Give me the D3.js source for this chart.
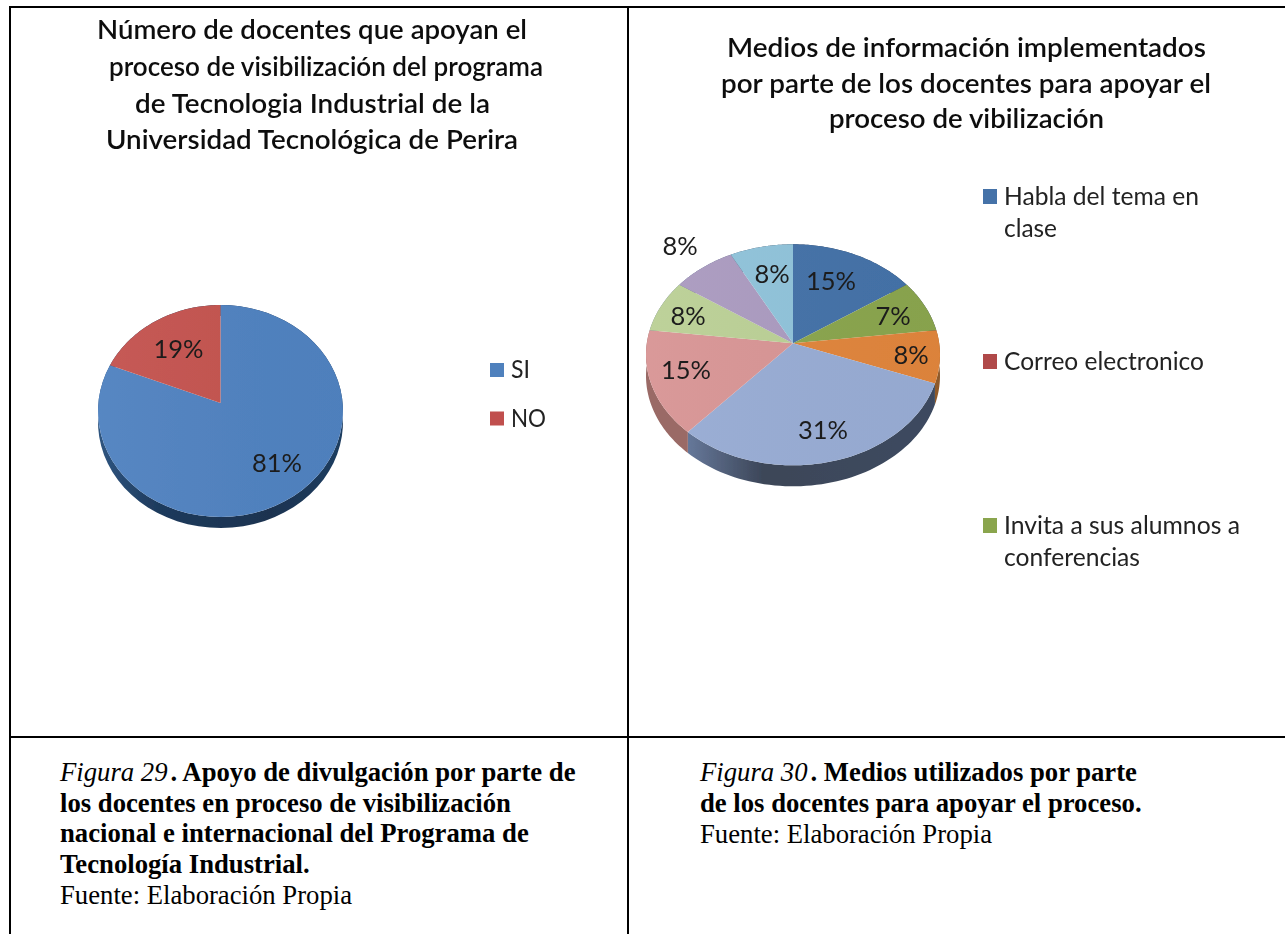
<!DOCTYPE html>
<html><head><meta charset="utf-8">
<script src="https://cdnjs.cloudflare.com/ajax/libs/d3/7.8.5/d3.min.js"></script>
<style>html,body{margin:0;padding:0;background:#fff;overflow:hidden}svg{display:block}</style>
</head><body><svg id="c" width="1285" height="934"></svg>
<script>
// ---- data ----
const leftCategories = ["SI", "NO"];
const leftValues = [81, 19];
const leftLabels = ["81%", "19%"];
const leftColors = ["#5082c0", "#c4544f"];
const leftLegendColors = ["#4f81bd", "#c0504d"];

// 13 responses in total; the source chart prints 1/13 as both 7% and 8%
const rightValues = [2, 1, 1, 4, 2, 1, 1, 1];
const rightLabels = ["15%", "7%", "8%", "31%", "15%", "8%", "8%", "8%"];
const rightColors = ["#4472a8", "#8aa54e", "#e0853c", "#98acd4", "#d89595", "#bbd096", "#ab9bc0", "#90c3da"];
const rightLegend = [["Habla del tema en", "clase"], ["Correo electronico"], ["Invita a sus alumnos a", "conferencias"]];
const rightLegendColors = ["#4472a8", "#b04a48", "#8aa54e"];

const leftTitle = ["Número de docentes que apoyan el", "proceso de visibilización del programa", "de Tecnologia Industrial de la", "Universidad Tecnológica de Perira"];
const rightTitle = ["Medios de información implementados", "por parte de los docentes para apoyar el", "proceso de vibilización"];

// ---- layout ----
const svg = d3.select("#c");
const defs = svg.append("defs");
defs.append("filter").attr("id", "soft").attr("x", "-5%").attr("y", "-5%").attr("width", "110%").attr("height", "110%")
  .append("feGaussianBlur").attr("stdDeviation", 0.55);
const chartLayer = svg.append("g").attr("filter", "url(#soft)");
const sans = "Lato,'Open Sans','Noto Sans',sans-serif";

function pie3d(o) {
  const g = chartLayer.append("g");
  const k = (o.down - o.up) / (o.down + o.up);
  const b = o.up * (1 + k);
  const a = o.rx * Math.sqrt(1 - k * k);
  const proj = (t, r = 1) => {
    const x = r * Math.sin(t), y = -r * Math.cos(t), w = 1 - k * y;
    return [o.cx + a * x / w, o.cy + b * y / w];
  };
  const arcs = d3.pie().sort(null).startAngle(0).endAngle(2 * Math.PI)(o.values);
  const line = d3.line();
  const arcPts = d => d3.range(0, 61).map(i => proj(d.startAngle + (d.endAngle - d.startAngle) * i / 60));

  const wallId = o.id + "wall";
  const gr = defs.append("linearGradient").attr("id", wallId).attr("gradientUnits", "userSpaceOnUse")
    .attr("x1", o.cx - o.rx).attr("x2", o.cx + o.rx).attr("y1", 0).attr("y2", 0);
  o.wall.forEach(s => gr.append("stop").attr("offset", s[0]).attr("stop-color", s[1]));

  g.selectAll("path.wall").data(arcs).join("path").attr("class", "wall")
    .attr("d", d => {
      const p = arcPts(d);
      const q = p.slice().reverse().map(v => [v[0], v[1] + o.depth]);
      return line(p.concat(q)) + "Z";
    })
    .attr("fill", (d, i) => o.wallColors ? o.wallColors[i] || `url(#${wallId})` : `url(#${wallId})`);

  const faceId = o.id + "face";
  const fg = defs.append("linearGradient").attr("id", faceId).attr("gradientUnits", "userSpaceOnUse")
    .attr("x1", o.cx - o.rx).attr("x2", o.cx + o.rx).attr("y1", 0).attr("y2", 0);
  fg.append("stop").attr("offset", 0).attr("stop-color", "#fff").attr("stop-opacity", 0.04);
  fg.append("stop").attr("offset", 1).attr("stop-color", "#000").attr("stop-opacity", 0.02);

  g.selectAll("path.face").data(arcs).join("path").attr("class", "face")
    .attr("d", d => line([[o.cx, o.cy]].concat(arcPts(d))) + "Z")
    .attr("fill", (d, i) => o.colors[i]);
  g.append("path").attr("d", line(d3.range(0, 121).map(i => proj(i / 120 * 2 * Math.PI))) + "Z")
    .attr("fill", `url(#${faceId})`);

  g.selectAll("text").data(o.labels).join("text")
    .attr("x", (d, i) => o.labelAt[i][0]).attr("y", (d, i) => o.labelAt[i][1])
    .attr("text-anchor", "middle").attr("font-family", sans)
    .attr("font-size", o.labelSize).attr("fill", "#1c1c1c").text(d => d);
}

pie3d({ id: "l", cx: 220.5, cy: 403, rx: 122.5, up: 98, down: 114, depth: 11,
  values: leftValues, colors: leftColors, labels: leftLabels,
  labelAt: [[277, 472], [178.5, 358]], labelSize: 25.5,
  wall: [[0, "#2f5580"], [0.25, "#1e3a5c"], [0.7, "#1c3350"], [1, "#1f3d60"]] });

pie3d({ id: "r", cx: 793, cy: 343.3, rx: 147, up: 99, down: 122, depth: 21,
  values: rightValues, colors: rightColors, labels: rightLabels,
  labelAt: [[831, 290], [893, 325], [911, 364], [823, 439], [686, 379], [688, 325], [680, 255], [772, 283]], labelSize: 25.5,
  wall: [[0, "#6b7d99"], [0.14, "#66789a"], [0.4, "#3c4658"], [1, "#3c4a60"]],
  wallColors: [null, null, "#8f5a2c", null, "#9a6a66", null, null, null] });

function lines(arr, ys, x0s, x1s, font, size, weight, fill) {
  chartLayer.append("g").selectAll("text").data(arr).join("text")
    .attr("x", (d, i) => x0s[i]).attr("y", (d, i) => ys[i])
    .attr("textLength", (d, i) => x1s[i] - x0s[i]).attr("lengthAdjust", "spacingAndGlyphs")
    .attr("font-family", font).attr("font-size", size).attr("font-weight", weight).attr("fill", fill)
    .text(d => d);
}
lines(leftTitle, [39, 76, 113, 149], [97, 109, 135, 106], [527, 543, 490, 518], sans, 27, 600, "#111");
lines(rightTitle, [57, 93, 128], [727, 721, 829], [1206, 1211, 1104], sans, 27, 600, "#111");

// legends
const leftLegendG = chartLayer.append("g");
leftLegendG.selectAll("rect").data(leftCategories).join("rect")
  .attr("x", 490).attr("y", (d, i) => 363 + i * 48.5).attr("width", 14).attr("height", 14)
  .attr("fill", (d, i) => leftLegendColors[i]);
lines(leftCategories, [378, 427], [511, 511], [530, 546], sans, 25, 400, "#222");

const legendY = [189, 354, 518];
chartLayer.append("g").selectAll("rect").data(rightLegend).join("rect")
  .attr("x", 983).attr("y", (d, i) => legendY[i]).attr("width", 14).attr("height", 15)
  .attr("fill", (d, i) => rightLegendColors[i]);
lines(rightLegend.flat(), [205, 237, 370, 534, 566], [1004, 1004, 1004, 1004, 1004], [1199, 1057, 1204, 1240, 1140], sans, 25, 400, "#222");

// table rules
const rules = [[9, 7, 1285, 7], [10, 7, 10, 934], [628, 7, 628, 934], [9, 737, 1285, 737]];
svg.append("g").selectAll("line").data(rules).join("line")
  .attr("x1", d => d[0]).attr("y1", d => d[1]).attr("x2", d => d[2]).attr("y2", d => d[3])
  .attr("stroke", "#000").attr("stroke-width", 2);

// captions
const serif = "'Liberation Serif','Times New Roman',serif";
function caption(x, rows) {
  const t = svg.append("g").attr("font-family", serif).attr("font-size", 26.7).attr("fill", "#000");
  rows.forEach(r => {
    const tx = t.append("text").attr("x", x).attr("y", r.y);
    r.parts.forEach(p => tx.append("tspan").attr("dx", p.i ? null : (r.parts.length > 1 ? 3 : null))
      .attr("font-style", p.i ? "italic" : null).attr("font-weight", p.b ? 700 : null).text(p.t));
  });
}
caption(60, [
  { y: 781, parts: [{ t: "Figura 29", i: 1 }, { t: ". Apoyo de divulgación por parte de", b: 1 }] },
  { y: 812, parts: [{ t: "los docentes en proceso de visibilización", b: 1 }] },
  { y: 842, parts: [{ t: "nacional e internacional del Programa de", b: 1 }] },
  { y: 873, parts: [{ t: "Tecnología Industrial.", b: 1 }] },
  { y: 904, parts: [{ t: "Fuente: Elaboración Propia" }] }
]);
caption(700, [
  { y: 781, parts: [{ t: "Figura 30", i: 1 }, { t: ". Medios utilizados por parte", b: 1 }] },
  { y: 812, parts: [{ t: "de los docentes para apoyar el proceso.", b: 1 }] },
  { y: 843, parts: [{ t: "Fuente: Elaboración Propia" }] }
]);
</script></body></html>
